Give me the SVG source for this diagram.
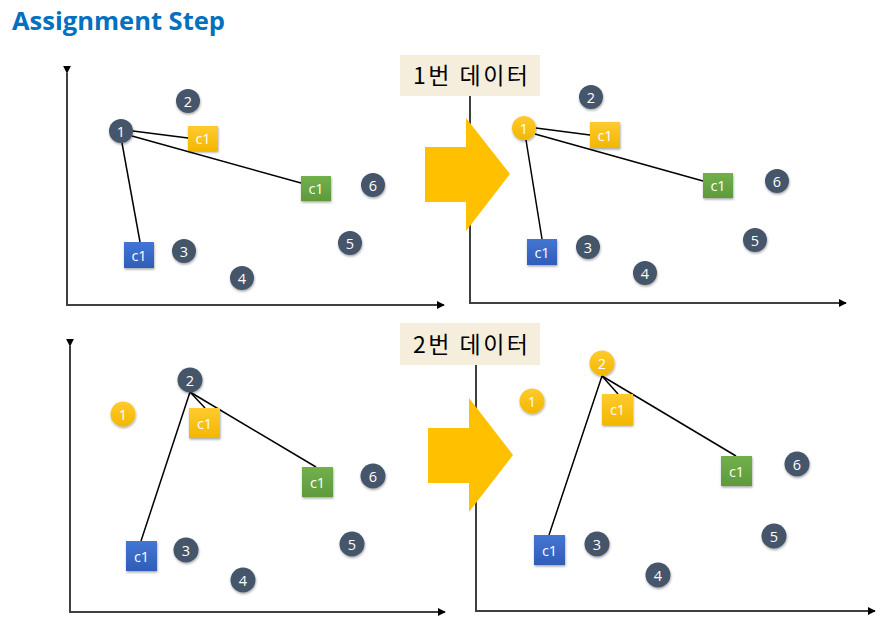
<svg xmlns="http://www.w3.org/2000/svg" width="891" height="621" viewBox="0 0 891 621">
<defs>
<style>
.title{font-family:"Open Sans","Liberation Sans",sans-serif;font-weight:bold;font-size:25px;fill:#0070C0}
.lbl{font-family:"Noto Sans CJK KR","Noto Sans",sans-serif;font-size:23px;fill:#000}
.num{font-family:"Open Sans","Liberation Sans",sans-serif;font-size:14.5px;fill:#fff;text-anchor:middle;dominant-baseline:central}
.axis{stroke:#404040;stroke-width:2;fill:none}
.ln{stroke:#000;stroke-width:1.5;fill:none}
.dark{fill:#44546A}
.yel{fill:url(#gy)}
.sq-y{fill:url(#gy)}
.sq-g{fill:url(#gg)}
.sq-b{fill:url(#gb)}
.box{fill:#F6EEDC}
.bigarrow{fill:#FFC000}
</style>
<linearGradient id="gy" x1="0" y1="0" x2="0" y2="1"><stop offset="0" stop-color="#FFCB2F"/><stop offset="1" stop-color="#F2B700"/></linearGradient>
<linearGradient id="gg" x1="0" y1="0" x2="0" y2="1"><stop offset="0" stop-color="#72B04C"/><stop offset="1" stop-color="#5E9A3B"/></linearGradient>
<linearGradient id="gb" x1="0" y1="0" x2="0" y2="1"><stop offset="0" stop-color="#4476D4"/><stop offset="1" stop-color="#2F5DB8"/></linearGradient>
<filter id="sh" x="-30%" y="-30%" width="160%" height="160%"><feDropShadow dx="0.5" dy="1.5" stdDeviation="1.2" flood-color="#000" flood-opacity="0.35"/></filter>
<marker id="ah" viewBox="0 0 10 10" refX="9" refY="5" markerWidth="4" markerHeight="4" orient="auto" markerUnits="strokeWidth"><path d="M0,0 L10,5 L0,10 z" fill="#000"/></marker>
</defs>
<rect width="891" height="621" fill="#fff"/>
<text class="title" x="12" y="30" textLength="213" lengthAdjust="spacingAndGlyphs">Assignment Step</text>

<!-- label boxes -->
<g id="label1"><rect class="box" x="400" y="55" width="140" height="41"/><text class="lbl" x="413" y="84" textLength="115" lengthAdjust="spacing">1번 데이터</text></g>
<g id="label2"><rect class="box" x="400" y="323" width="140" height="42"/><text class="lbl" x="413" y="353" textLength="115" lengthAdjust="spacing">2번 데이터</text></g>

<!-- axes -->
<g id="axes">
<polyline class="axis" points="67,73 67,305 444,305" marker-start="url(#ah)" marker-end="url(#ah)"/>
<polyline class="axis" points="470,96 470,303 846,303" marker-end="url(#ah)"/>
<polyline class="axis" points="70,346 70,612 445,612" marker-start="url(#ah)" marker-end="url(#ah)"/>
<polyline class="axis" points="476,365 476,611 875,611" marker-end="url(#ah)"/>
</g>

<!-- big arrows -->
<g id="arrow1"><polygon class="bigarrow" points="425,147 466,147 466,118 510,174 466,231 466,202 425,202"/></g>
<g id="arrow2"><polygon class="bigarrow" points="428,428 469,428 469,398 513,455 469,512 469,483 428,483"/></g>

<!-- connectors -->
<g id="connectors">
<line class="ln" x1="133" y1="131" x2="188" y2="138"/>
<line class="ln" x1="132" y1="136" x2="301" y2="183"/>
<line class="ln" x1="122" y1="143" x2="140" y2="242"/>
<line class="ln" x1="536" y1="128" x2="590" y2="135"/>
<line class="ln" x1="535" y1="134" x2="703" y2="181"/>
<line class="ln" x1="526" y1="140" x2="542" y2="239"/>
<line class="ln" x1="190" y1="392" x2="205" y2="408"/>
<line class="ln" x1="190" y1="392" x2="316" y2="467"/>
<line class="ln" x1="190" y1="392" x2="141" y2="541"/>
<line class="ln" x1="602" y1="376" x2="618" y2="394"/>
<line class="ln" x1="602" y1="376" x2="736" y2="456"/>
<line class="ln" x1="602" y1="376" x2="549" y2="535"/>
</g>

<!-- panel 1 -->
<g id="p1-n1"><circle class="dark" cx="121" cy="131" r="12" filter="url(#sh)"/><text class="num" x="121" y="131">1</text></g>
<g id="p1-n2"><circle class="dark" cx="188" cy="101" r="12" filter="url(#sh)"/><text class="num" x="188" y="101">2</text></g>
<g id="p1-n3"><circle class="dark" cx="184" cy="251" r="12" filter="url(#sh)"/><text class="num" x="184" y="251">3</text></g>
<g id="p1-n4"><circle class="dark" cx="242" cy="278" r="12" filter="url(#sh)"/><text class="num" x="242" y="278">4</text></g>
<g id="p1-n5"><circle class="dark" cx="350" cy="243" r="12" filter="url(#sh)"/><text class="num" x="350" y="243">5</text></g>
<g id="p1-n6"><circle class="dark" cx="373" cy="185" r="12" filter="url(#sh)"/><text class="num" x="373" y="185">6</text></g>
<g id="p1-cy"><rect class="sq-y" x="188" y="126" width="30" height="25" filter="url(#sh)"/><text class="num" x="203" y="138.5">c1</text></g>
<g id="p1-cg"><rect class="sq-g" x="301" y="176" width="30" height="25" filter="url(#sh)"/><text class="num" x="316" y="188.5">c1</text></g>
<g id="p1-cb"><rect class="sq-b" x="124" y="242" width="30" height="26" filter="url(#sh)"/><text class="num" x="139" y="255">c1</text></g>

<!-- panel 2 -->
<g id="p2-n1"><circle class="yel" cx="524" cy="128" r="12" filter="url(#sh)"/><text class="num" x="524" y="128">1</text></g>
<g id="p2-n2"><circle class="dark" cx="591" cy="97" r="12" filter="url(#sh)"/><text class="num" x="591" y="97">2</text></g>
<g id="p2-n3"><circle class="dark" cx="588" cy="247" r="12" filter="url(#sh)"/><text class="num" x="588" y="247">3</text></g>
<g id="p2-n4"><circle class="dark" cx="645" cy="273" r="12" filter="url(#sh)"/><text class="num" x="645" y="273">4</text></g>
<g id="p2-n5"><circle class="dark" cx="755" cy="240" r="12" filter="url(#sh)"/><text class="num" x="755" y="240">5</text></g>
<g id="p2-n6"><circle class="dark" cx="777" cy="181" r="12" filter="url(#sh)"/><text class="num" x="777" y="181">6</text></g>
<g id="p2-cy"><rect class="sq-y" x="590" y="122" width="30" height="26" filter="url(#sh)"/><text class="num" x="605" y="135">c1</text></g>
<g id="p2-cg"><rect class="sq-g" x="703" y="173" width="30" height="25" filter="url(#sh)"/><text class="num" x="718" y="185.5">c1</text></g>
<g id="p2-cb"><rect class="sq-b" x="527" y="239" width="30" height="26" filter="url(#sh)"/><text class="num" x="542" y="252">c1</text></g>

<!-- panel 3 -->
<g id="p3-n1"><circle class="yel" cx="123" cy="414" r="12.5" filter="url(#sh)"/><text class="num" x="123" y="414">1</text></g>
<g id="p3-n2"><circle class="dark" cx="190" cy="380" r="12.5" filter="url(#sh)"/><text class="num" x="190" y="380">2</text></g>
<g id="p3-n3"><circle class="dark" cx="186" cy="550" r="12.5" filter="url(#sh)"/><text class="num" x="186" y="550">3</text></g>
<g id="p3-n4"><circle class="dark" cx="243" cy="580" r="12.5" filter="url(#sh)"/><text class="num" x="243" y="580">4</text></g>
<g id="p3-n5"><circle class="dark" cx="352" cy="544" r="12.5" filter="url(#sh)"/><text class="num" x="352" y="544">5</text></g>
<g id="p3-n6"><circle class="dark" cx="373" cy="476" r="12.5" filter="url(#sh)"/><text class="num" x="373" y="476">6</text></g>
<g id="p3-cy"><rect class="sq-y" x="189" y="408" width="31" height="30" filter="url(#sh)"/><text class="num" x="204.5" y="423">c1</text></g>
<g id="p3-cg"><rect class="sq-g" x="302" y="467" width="31" height="30" filter="url(#sh)"/><text class="num" x="317.5" y="482">c1</text></g>
<g id="p3-cb"><rect class="sq-b" x="126" y="541" width="31" height="30" filter="url(#sh)"/><text class="num" x="141.5" y="556">c1</text></g>

<!-- panel 4 -->
<g id="p4-n1"><circle class="yel" cx="532" cy="401" r="12.5" filter="url(#sh)"/><text class="num" x="532" y="401">1</text></g>
<g id="p4-n2"><circle class="yel" cx="602" cy="363" r="12.5" filter="url(#sh)"/><text class="num" x="602" y="363">2</text></g>
<g id="p4-n3"><circle class="dark" cx="597" cy="544" r="12.5" filter="url(#sh)"/><text class="num" x="597" y="544">3</text></g>
<g id="p4-n4"><circle class="dark" cx="658" cy="575" r="12.5" filter="url(#sh)"/><text class="num" x="658" y="575">4</text></g>
<g id="p4-n5"><circle class="dark" cx="774" cy="536" r="12.5" filter="url(#sh)"/><text class="num" x="774" y="536">5</text></g>
<g id="p4-n6"><circle class="dark" cx="797" cy="464" r="12.5" filter="url(#sh)"/><text class="num" x="797" y="464">6</text></g>
<g id="p4-cy"><rect class="sq-y" x="602" y="394" width="31" height="31" filter="url(#sh)"/><text class="num" x="617.5" y="409.5">c1</text></g>
<g id="p4-cg"><rect class="sq-g" x="721" y="456" width="31" height="30" filter="url(#sh)"/><text class="num" x="736.5" y="471">c1</text></g>
<g id="p4-cb"><rect class="sq-b" x="534" y="535" width="31" height="30" filter="url(#sh)"/><text class="num" x="549.5" y="550">c1</text></g>
</svg>
